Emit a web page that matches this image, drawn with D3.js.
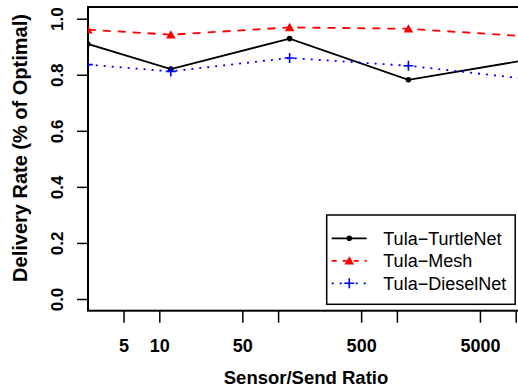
<!DOCTYPE html>
<html>
<head>
<meta charset="utf-8">
<script src="https://cdn.jsdelivr.net/npm/d3@7"></script>
<style>
  body { margin: 0; background: #fff; }
  svg { display: block; font-family: "Liberation Sans", Arial, sans-serif; }
</style>
</head>
<body>
<div id="chart"></div>
<script>
// Sensor/Send ratio (x) and delivery rate per protocol
var ratios = [2.5, 12.5, 125, 1250, 12500];
var turtleNet = [0.910, 0.820, 0.929, 0.782, 0.853];
var mesh = [0.961, 0.943, 0.969, 0.964, 0.937];
var dieselNet = [0.836, 0.812, 0.860, 0.832, 0.785];

var xTicks = [5, 10, 50, 100, 500, 1000, 5000, 10000];
var xLabels = [5, 10, 50, 500, 5000];
var yTicks = [0, 0.2, 0.4, 0.6, 0.8, 1.0];

var series = [
    {name: "Tula\u2212TurtleNet", values: turtleNet, color: "#000", dash: null, shape: "dot"},
    {name: "Tula\u2212Mesh", values: mesh, color: "#ff0000", dash: "8,7", shape: "triangle"},
    {name: "Tula\u2212DieselNet", values: dieselNet, color: "#0000ff", dash: "2,6", shape: "plus"}
];

var width = 518, height = 387;
var plot = {left: 88, top: 7, right: 560, bottom: 310.7};

var svg = d3.select("#chart").append("svg")
    .attr("width", width)
    .attr("height", height);

// log x scale; 10 and 10000 fixed at their tick positions
var x = d3.scaleLog()
    .domain([10, 10000])
    .range([159.3, 515.7]);

var y = d3.scaleLinear()
    .domain([0, 1])
    .range([299, 18.7]);

svg.append("clipPath")
    .attr("id", "plotclip")
    .append("rect")
    .attr("x", plot.left)
    .attr("y", plot.top)
    .attr("width", plot.right - plot.left)
    .attr("height", plot.bottom - plot.top);

// Axes
var xAxis = svg.append("g")
    .attr("transform", "translate(0," + plot.bottom + ")")
    .call(d3.axisBottom(x)
        .tickValues(xTicks)
        .tickSize(12)
        .tickPadding(4)
        .tickFormat(function(d) { return xLabels.indexOf(d) >= 0 ? d : ""; }));
xAxis.select(".domain").remove();
xAxis.selectAll(".tick line").attr("stroke", "#000").attr("stroke-width", 1.5);
xAxis.selectAll(".tick text")
    .attr("y", 41)
    .attr("dy", 0)
    .style("font-size", "18px")
    .style("font-weight", "bold")
    .style("fill", "#000");

var yAxis = svg.append("g")
    .attr("transform", "translate(" + plot.left + ",0)")
    .call(d3.axisLeft(y)
        .tickValues(yTicks)
        .tickSize(11)
        .tickFormat(d3.format(".1f")));
yAxis.select(".domain").remove();
yAxis.selectAll(".tick line").attr("stroke", "#000").attr("stroke-width", 1.5);
yAxis.selectAll(".tick text")
    .attr("x", 0)
    .attr("dy", 0)
    .attr("transform", "translate(-25,0) rotate(-90)")
    .style("text-anchor", "middle")
    .style("font-size", "17px")
    .style("font-weight", "bold")
    .style("fill", "#000");

// Plot box
svg.append("rect")
    .attr("x", plot.left)
    .attr("y", plot.top)
    .attr("width", plot.right - plot.left)
    .attr("height", plot.bottom - plot.top)
    .style("fill", "none")
    .style("stroke", "#000")
    .style("stroke-width", 2);

// Axis titles
svg.append("text")
    .attr("x", 306)
    .attr("y", 384)
    .style("text-anchor", "middle")
    .style("font-size", "18.5px")
    .style("font-weight", "bold")
    .text("Sensor/Send Ratio");

svg.append("text")
    .attr("transform", "translate(27,148) rotate(-90)")
    .style("text-anchor", "middle")
    .style("font-size", "20px")
    .style("font-weight", "bold")
    .text("Delivery Rate (% of Optimal)");

// Lines and markers
var line = d3.line()
    .x(function(d, i) { return x(ratios[i]); })
    .y(function(d) { return y(d); });

var tri = d3.symbol().type(d3.symbolTriangle).size(40);

function drawMarker(g, shape, color) {
    if (shape === "dot") {
        g.append("circle").attr("r", 2.8).style("fill", color);
    } else if (shape === "triangle") {
        g.append("path").attr("d", tri()).attr("transform", "translate(0,1)").style("fill", color);
    } else {
        g.append("path").attr("d", "M-5,0H5M0,-5V5")
            .style("stroke", color).style("stroke-width", 1.6).style("fill", "none");
    }
}

var plotArea = svg.append("g").attr("clip-path", "url(#plotclip)");

series.forEach(function(s) {
    plotArea.append("path")
        .datum(s.values)
        .attr("d", line)
        .style("fill", "none")
        .style("stroke", s.color)
        .style("stroke-width", 1.8)
        .style("stroke-dasharray", s.dash);

    plotArea.selectAll(null)
        .data(s.values)
        .enter().append("g")
        .attr("transform", function(d, i) { return "translate(" + x(ratios[i]) + "," + y(d) + ")"; })
        .each(function() { drawMarker(d3.select(this), s.shape, s.color); });
});

// Legend
var legend = svg.append("g").attr("transform", "translate(326.7,215)");

legend.append("rect")
    .attr("width", 188.5)
    .attr("height", 89.3)
    .style("fill", "#fff")
    .style("stroke", "#000")
    .style("stroke-width", 1.5);

var rows = legend.selectAll(".legend")
    .data(series)
    .enter().append("g")
    .attr("class", "legend")
    .attr("transform", function(d, i) { return "translate(0," + (23.3 + i * 22.5) + ")"; });

rows.append("line")
    .attr("x1", 5)
    .attr("x2", 40)
    .style("stroke", function(d) { return d.color; })
    .style("stroke-width", 1.8)
    .style("stroke-dasharray", function(d) { return d.shape === "triangle" ? "5,6" : d.dash; });

rows.each(function(d) {
    var g = d3.select(this).append("g").attr("transform", "translate(22.6,0)");
    drawMarker(g, d.shape, d.color);
});

rows.append("text")
    .attr("x", 56.6)
    .attr("dy", "0.36em")
    .style("font-size", "18px")
    .style("fill", "#000")
    .text(function(d) { return d.name; });
</script>
</body>
</html>
